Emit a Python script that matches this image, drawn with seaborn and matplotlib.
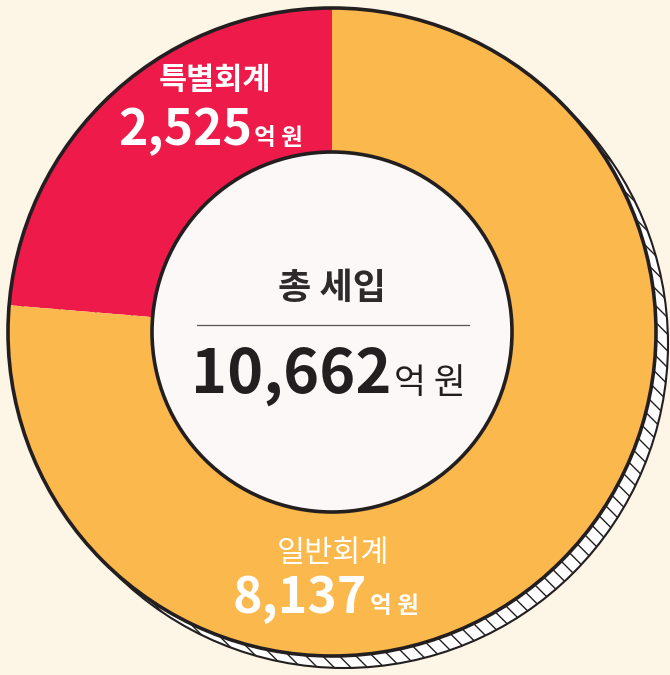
import matplotlib.pyplot as plt
import seaborn as sns
import numpy as np
from matplotlib.patches import Circle

# 세입 구성 (억 원)
labels = ["특별회계", "일반회계"]
values = [2525, 8137]
total_label = "총 세입"
total_value = 10662
colors = ["#EE1A4A", "#FBB84C"]

sns.set_theme(style="white")
plt.rcParams['font.family'] = ['Noto Sans CJK KR', 'DejaVu Sans']
plt.rcParams['hatch.linewidth'] = 1.0
plt.rcParams['hatch.color'] = "#231f20"

bg = "#FDF5E6"
fig = plt.figure(figsize=(6.7, 6.75), dpi=100, facecolor=bg)
ax = fig.add_axes([0, 0, 1, 1])
ax.set_facecolor(bg)

cx, cy, R, r_in = 332, 343, 324, 180

# 그림자 (빗금 원)
sx, sy = cx + 12, cy - 12
ax.add_patch(Circle((sx, sy), R, facecolor="white", edgecolor="#231f20",
                    lw=1.5, hatch="\\\\", zorder=1))

# 도넛
wedges, _ = ax.pie(values, colors=colors, startangle=90, counterclock=True,
                   center=(cx, cy), radius=R,
                   wedgeprops=dict(width=R - r_in, edgecolor="none"))
for w in wedges:
    w.set_zorder(2)
ax.add_patch(Circle((cx, cy), R, facecolor="none", edgecolor="#231f20", lw=2.6, zorder=3))
ax.add_patch(Circle((cx, cy), r_in, facecolor="#FDF8F8", edgecolor="#231f20", lw=2.6, zorder=3))

# 중앙 텍스트
dark = "#231f20"
ax.text(cx, 387, total_label, ha="center", va="center", fontsize=26,
        fontweight="bold", color="#2e2a2b", zorder=5)
ax.plot([197, 469], [350, 350], color="#555555", lw=0.9, zorder=5)
ax.text(391, 282, f"{total_value:,}", ha="right", va="baseline", fontsize=44,
        fontweight="bold", color=dark, zorder=5)
ax.text(394, 282, "억 원", ha="left", va="baseline", fontsize=25, color=dark, zorder=5)

# 특별회계 라벨
ax.text(215, 595, labels[0], ha="center", va="center", fontsize=22,
        fontweight="bold", color="white", zorder=5)
ax.text(252, 530, f"{values[0]:,}", ha="right", va="baseline", fontsize=36,
        fontweight="bold", color="white", zorder=5)
ax.text(254, 530, "억 원", ha="left", va="baseline", fontsize=17,
        fontweight="bold", color="white", zorder=5)

# 일반회계 라벨
ax.text(333, 122, labels[1], ha="center", va="center", fontsize=22,
        color="white", zorder=5)
ax.text(367, 62, f"{values[1]:,}", ha="right", va="baseline", fontsize=36,
        fontweight="bold", color="white", zorder=5)
ax.text(370, 62, "억 원", ha="left", va="baseline", fontsize=17,
        fontweight="bold", color="white", zorder=5)

ax.set_xlim(0, 670)
ax.set_ylim(0, 675)
ax.set_aspect("equal")
ax.axis("off")

fig.savefig("out.png", dpi=100, facecolor=bg)
